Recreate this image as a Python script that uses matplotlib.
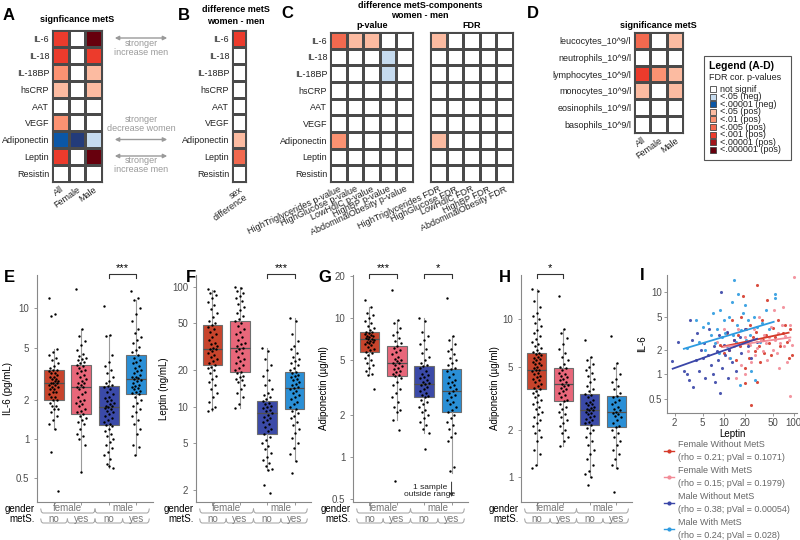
import numpy as np
import matplotlib
matplotlib.use('Agg')
import matplotlib.pyplot as plt
from matplotlib.colors import ListedColormap, BoundaryNorm
from matplotlib.transforms import blended_transform_factory
from matplotlib.patches import Rectangle
from matplotlib.ticker import NullLocator

plt.rcParams['font.family'] = ['Liberation Sans', 'DejaVu Sans']

# ---------------- data: heatmaps ----------------
markers = ['IL-6', 'IL-18', 'IL-18BP', 'hsCRP', 'AAT', 'VEGF', 'Adiponectin', 'Leptin', 'Resistin']
groups_A = ['All', 'Female', 'Male']
sig_levels = ['not signif', '<.05 (neg)', '<.00001 (neg)', '<.05 (pos)', '<.01 (pos)',
              '<.005 (pos)', '<.001 (pos)', '<.00001 (pos)', '<.000001 (pos)']
level_colors = ['#ffffff', '#c6dbef', '#0b57a6', '#fcbba1', '#fc9272',
                '#f2694f', '#ec3b2c', '#a3151b', '#67000d', '#233b7a']
# codes index into level_colors (9 = darkest negative)
sig_A = [[6, 0, 8], [6, 0, 6], [4, 0, 3], [3, 0, 3], [0, 0, 0],
         [4, 0, 0], [2, 9, 1], [6, 0, 8], [0, 0, 0]]
sig_B = [[6], [0], [0], [0], [0], [0], [3], [5], [0]]
B_cols = ['sex\ndifference']
C_pcols = ['HighTriglycerides p-value', 'HighGlucose p-value', 'LowHdlC p-value',
           'HighBP p-value', 'AbdominalObesity p-value']
C_fcols = ['HighTriglycerides FDR', 'HighGlucose FDR', 'LowHdlC FDR',
           'HighBP FDR', 'AbdominalObesity FDR']
sig_C_p = [[5, 3, 3, 0, 0], [0, 0, 0, 1, 0], [0, 0, 0, 1, 0], [0, 0, 0, 0, 0], [0, 0, 0, 0, 0],
           [0, 0, 0, 0, 0], [4, 0, 0, 0, 0], [0, 0, 0, 0, 0], [0, 0, 0, 0, 0]]
sig_C_f = [[3, 0, 0, 0, 0], [0, 0, 0, 0, 0], [0, 0, 0, 0, 0], [0, 0, 0, 0, 0], [0, 0, 0, 0, 0],
           [0, 0, 0, 0, 0], [3, 0, 0, 0, 0], [0, 0, 0, 0, 0], [0, 0, 0, 0, 0]]
cells_D = ['leucocytes_10^9/l', 'neutrophils_10^9/l', 'lymphocytes_10^9/l',
           'monocytes_10^9/l', 'eosinophils_10^9/l', 'basophils_10^9/l']
sig_D = [[5, 0, 3], [0, 0, 0], [6, 4, 3], [3, 0, 3], [0, 0, 0], [0, 0, 0]]

# ---------------- data: box panels ----------------
box_groups = ['female no', 'female yes', 'male no', 'male yes']
box_colors = ['#c8442c', '#e8677a', '#3b4aa8', '#2a8fd6']

E_q1 = [2.0, 1.55, 1.28, 2.2]; E_med = [2.7, 2.5, 1.75, 2.9]; E_q3 = [3.4, 3.7, 2.55, 4.4]
E_lo = [1.2, 0.56, 0.6, 0.75]; E_hi = [4.9, 6.9, 6.3, 11.5]
E_pts = [
    [12.0, 9.0, 8.8, 4.9, 4.6, 4.4, 4.2, 4.0, 3.8, 3.6, 3.5, 3.4, 3.4, 3.3, 3.2, 3.2, 3.1, 3.0, 3.0, 2.9,
     2.9, 2.8, 2.8, 2.7, 2.7, 2.7, 2.6, 2.6, 2.5, 2.5, 2.4, 2.4, 2.3, 2.3, 2.2, 2.1, 2.1, 2.0, 2.0, 1.9,
     1.8, 1.8, 1.7, 1.7, 1.6, 1.5, 1.4, 1.3, 1.2, 0.8, 0.4],
    [14.0, 6.9, 6.2, 5.6, 5.2, 4.8, 4.5, 4.3, 4.2, 4.1, 4.0, 3.9, 3.8, 3.7, 3.6, 3.5, 3.4, 3.3, 3.2, 3.1,
     3.0, 2.9, 2.8, 2.7, 2.7, 2.6, 2.5, 2.5, 2.4, 2.3, 2.2, 2.1, 2.0, 1.95, 1.9, 1.85, 1.8, 1.7, 1.65, 1.6,
     1.55, 1.5, 1.45, 1.4, 1.35, 1.3, 1.2, 1.1, 1.05, 1.0, 0.9, 0.56],
    [10.5, 6.3, 6.1, 4.4, 3.9, 3.6, 3.4, 3.2, 3.0, 2.8, 2.7, 2.6, 2.55, 2.5, 2.4, 2.3, 2.2, 2.1, 2.05, 2.0,
     1.95, 1.9, 1.85, 1.8, 1.78, 1.75, 1.72, 1.7, 1.65, 1.6, 1.55, 1.5, 1.45, 1.4, 1.35, 1.3, 1.28, 1.25,
     1.2, 1.15, 1.1, 1.05, 1.0, 0.95, 0.9, 0.85, 0.8, 0.75, 0.7, 0.65, 0.6, 0.62],
    [13.5, 12.0, 11.5, 10.0, 9.0, 8.0, 7.0, 6.5, 6.0, 5.7, 5.4, 5.1, 4.8, 4.6, 4.4, 4.2, 4.0, 3.9, 3.8,
     3.6, 3.5, 3.4, 3.3, 3.2, 3.1, 3.0, 3.0, 2.95, 2.9, 2.85, 2.8, 2.7, 2.6, 2.55, 2.5, 2.45, 2.4, 2.35,
     2.3, 2.25, 2.2, 2.1, 2.0, 1.9, 1.8, 1.7, 1.6, 1.5, 1.4, 1.3, 1.2, 1.1, 0.9, 0.87, 0.75]]

F_q1 = [22, 19.6, 5.9, 9.6]; F_med = [30, 31, 8.8, 14.4]; F_q3 = [48, 52, 11.1, 19.6]
F_lo = [9.1, 9.7, 2.97, 3.5]; F_hi = [94, 100, 30.6, 55]
F_pts = [
    [95, 92, 88, 85, 80, 75, 70, 65, 60, 56, 52, 50, 48, 46, 44, 42, 40, 38, 36, 34, 33, 32, 31, 30, 30,
     29, 28, 27, 26, 25, 24, 23, 22, 21.5, 21, 20, 19, 18, 17, 16, 15, 14, 13, 12, 11, 10, 9.5, 9.1],
    [100, 97, 92, 88, 84, 80, 76, 72, 68, 64, 60, 57, 54, 52, 50, 47, 44, 42, 40, 38, 36, 34, 33, 32, 31,
     30, 29, 28, 26, 25, 24, 23, 22, 21, 20, 19.6, 19, 18, 17.5, 17, 16.5, 16, 15, 14, 13, 12, 10.5, 9.7],
    [30.6, 29, 25, 22, 20, 18, 16.5, 15, 14, 13, 12.5, 12, 11.5, 11.1, 10.8, 10.5, 10.2, 10, 9.7, 9.4,
     9.1, 8.8, 8.5, 8.2, 8.0, 7.7, 7.4, 7.1, 6.8, 6.5, 6.2, 5.9, 5.6, 5.3, 5.0, 4.7, 4.4, 4.1, 3.8, 3.6,
     3.4, 3.2, 3.0, 2.97, 2.2, 1.9],
    [55, 52, 40, 35, 32, 30, 28, 26, 25, 24, 23, 22, 21, 20, 19.6, 19, 18.5, 18, 17.5, 17, 16.5, 16, 15.5,
     15, 14.5, 14.4, 14, 13.5, 13, 12.5, 12, 11.5, 11, 10.5, 10, 9.6, 9.2, 8.8, 8.4, 8.0, 7.5, 7.0, 6.5,
     6.0, 5.5, 5.0, 4.5, 4.0, 3.5, 2.8]]

G_q1 = [5.75, 3.85, 2.69, 2.1]; G_med = [7.07, 4.75, 3.37, 3.0]; G_q3 = [7.9, 6.3, 4.5, 4.3]
G_lo = [3.9, 1.86, 1.49, 0.77]; G_hi = [12, 9.7, 10, 7.4]
G_pts = [
    [13.5, 12, 11, 10.5, 10, 9.6, 9.2, 8.8, 8.5, 8.2, 8.0, 7.9, 7.8, 7.7, 7.6, 7.5, 7.4, 7.3, 7.2, 7.1,
     7.07, 7.0, 6.9, 6.8, 6.7, 6.6, 6.5, 6.4, 6.2, 6.0, 5.9, 5.75, 5.6, 5.4, 5.2, 5.0, 4.8, 4.6, 4.4, 4.2,
     4.0, 3.9, 3.1],
    [16, 9.7, 9.2, 8.5, 8.0, 7.6, 7.2, 6.9, 6.6, 6.3, 6.1, 5.9, 5.7, 5.5, 5.3, 5.1, 5.0, 4.9, 4.8, 4.75,
     4.6, 4.5, 4.4, 4.3, 4.2, 4.1, 4.0, 3.9, 3.85, 3.7, 3.5, 3.3, 3.1, 2.9, 2.7, 2.5, 2.3, 2.2, 2.1, 1.86,
     1.57, 0.67],
    [10, 9.6, 8.0, 7.5, 7.0, 6.5, 6.0, 5.6, 5.3, 5.0, 4.8, 4.6, 4.5, 4.4, 4.2, 4.0, 3.9, 3.8, 3.7, 3.6,
     3.5, 3.4, 3.37, 3.3, 3.2, 3.1, 3.0, 2.9, 2.8, 2.75, 2.69, 2.6, 2.5, 2.4, 2.3, 2.2, 2.1, 2.0, 1.9, 1.8,
     1.7, 1.6, 1.49, 1.15],
    [14, 7.4, 7.0, 6.5, 6.0, 5.8, 5.5, 5.2, 5.0, 4.8, 4.6, 4.4, 4.3, 4.2, 4.0, 3.8, 3.6, 3.5, 3.4, 3.3,
     3.2, 3.1, 3.0, 2.9, 2.8, 2.7, 2.6, 2.5, 2.4, 2.3, 2.2, 2.1, 2.0, 1.9, 1.8, 1.7, 1.6, 1.5, 1.4, 1.3,
     0.85, 0.8]]

H_q1 = [3.6, 3.04, 2.13, 2.08]; H_med = [4.74, 3.92, 2.68, 2.61]; H_q3 = [6.1, 4.9, 3.39, 3.29]
H_lo = [1.2, 1.57, 1.0, 1.15]; H_hi = [15.5, 8.7, 5.8, 5.3]
H_pts = [
    [15.5, 15, 13, 12, 11, 10.5, 10, 9.5, 9.0, 8.6, 8.2, 7.8, 7.5, 7.2, 7.0, 6.8, 6.6, 6.4, 6.2, 6.1, 6.0,
     5.9, 5.8, 5.7, 5.6, 5.5, 5.4, 5.3, 5.2, 5.1, 5.0, 4.9, 4.8, 4.75, 4.7, 4.6, 4.5, 4.4, 4.3, 4.2, 4.1,
     4.0, 3.9, 3.8, 3.7, 3.6, 3.5, 3.4, 3.3, 3.2, 3.1, 3.0, 2.9, 2.8, 2.7, 2.6, 2.5, 2.4, 2.3, 2.2, 2.1,
     2.0, 1.9, 1.8, 1.7, 1.5, 1.4, 1.2, 1.15],
    [14, 8.7, 8.2, 7.6, 7.0, 6.5, 6.1, 5.8, 5.5, 5.2, 5.0, 4.9, 4.8, 4.6, 4.5, 4.4, 4.3, 4.2, 4.1, 4.0,
     3.92, 3.85, 3.8, 3.7, 3.6, 3.5, 3.4, 3.3, 3.2, 3.1, 3.04, 2.9, 2.8, 2.7, 2.6, 2.5, 2.4, 2.3, 2.2, 2.1,
     2.0, 1.9, 1.8, 1.7, 1.57],
    [7.4, 5.8, 5.5, 5.2, 5.0, 4.8, 4.6, 4.4, 4.2, 4.0, 3.8, 3.6, 3.5, 3.39, 3.3, 3.2, 3.1, 3.0, 2.95, 2.9,
     2.85, 2.8, 2.75, 2.7, 2.68, 2.65, 2.6, 2.55, 2.5, 2.45, 2.4, 2.35, 2.3, 2.25, 2.2, 2.13, 2.05, 2.0,
     1.9, 1.8, 1.7, 1.6, 1.5, 1.4, 1.3, 1.2, 1.1, 1.05, 1.0, 0.9],
    [7.8, 5.3, 4.9, 4.5, 4.2, 4.0, 3.8, 3.6, 3.4, 3.29, 3.2, 3.1, 3.0, 2.9, 2.8, 2.7, 2.65, 2.61, 2.55,
     2.5, 2.45, 2.4, 2.3, 2.2, 2.1, 2.08, 2.0, 1.9, 1.8, 1.7, 1.6, 1.5, 1.4, 1.3, 1.2, 1.15, 0.81]]

# ---------------- data: scatter panel I ----------------
I_names = ['Female Without MetS', 'Female With MetS', 'Male Without MetS', 'Male With MetS']
I_stats = ['(rho = 0.21; pVal = 0.1071)', '(rho = 0.15; pVal = 0.1979)',
           '(rho = 0.38; pVal = 0.00054)', '(rho = 0.24; pVal = 0.028)']
I_colors = ['#d53a2a', '#f28b97', '#3a46a8', '#2e9be0']
fem_no_leptin = [9, 10, 11, 12, 13, 14, 15, 16, 17, 18, 19, 20, 21, 22, 23, 24, 25, 26, 28, 29, 30, 32, 33,
                 35, 36, 38, 40, 42, 45, 48, 50, 55, 60, 65, 70, 75, 80, 85, 90, 95, 20, 30]
fem_no_il6 = [2.3, 1.8, 3.2, 2.0, 4.5, 2.6, 1.5, 3.0, 2.2, 5.0, 9.0, 1.2, 3.5, 2.4, 1.6, 4.0, 0.42, 2.8,
              1.9, 3.3, 12.0, 2.2, 1.4, 4.5, 2.6, 1.8, 3.0, 8.0, 2.4, 1.7, 3.6, 2.8, 4.5, 2.2, 3.2, 4.0,
              2.5, 1.6, 3.5, 1.7, 0.78, 0.8]
fem_yes_leptin = [8, 10, 12, 14, 15, 16, 18, 20, 20, 22, 24, 25, 27, 28, 30, 32, 34, 36, 38, 40, 42, 45,
                  48, 50, 52, 55, 58, 60, 65, 68, 72, 75, 80, 85, 88, 90, 95, 100, 70, 62]
fem_yes_il6 = [2.5, 3.5, 1.6, 2.2, 0.9, 3.5, 1.3, 2.8, 1.0, 1.9, 2.3, 1.4, 3.5, 1.7, 2.1, 5.0, 2.6, 1.9,
               3.0, 2.4, 1.5, 2.8, 3.8, 2.0, 6.0, 2.6, 1.8, 3.2, 2.4, 4.0, 2.2, 2.9, 1.4, 2.6, 0.55, 4.0,
               2.3, 15.0, 6.5, 1.2]
male_no_leptin = [1.8, 2.2, 2.7, 3.0, 3.2, 3.3, 3.5, 3.6, 4.0, 4.2, 4.5, 4.8, 5.0, 5.2, 5.5, 6.0, 6.2, 6.5,
                  7.0, 7.2, 7.5, 8.0, 8.2, 8.5, 9.0, 9.2, 9.5, 10, 10.5, 11, 11.5, 12, 13, 14, 15, 17, 18,
                  20, 22, 25, 30]
male_no_il6 = [1.45, 2.5, 1.1, 1.0, 0.85, 4.5, 2.6, 0.7, 1.5, 3.2, 1.1, 2.0, 1.6, 2.4, 0.9, 1.7, 3.5, 1.3,
               1.0, 2.2, 0.8, 1.9, 1.5, 3.0, 0.6, 10.0, 1.2, 2.3, 1.7, 3.3, 0.9, 2.0, 1.4, 2.6, 1.1, 2.8,
               1.8, 3.5, 2.2, 1.6, 2.5]
male_yes_leptin = [3.0, 4.0, 4.5, 5.0, 5.5, 6.0, 6.5, 7.0, 7.5, 8.0, 8.5, 9.0, 9.5, 10, 10.5, 11, 12, 12.5,
                   13, 13.5, 14, 15, 15.5, 16, 17, 18, 19, 20, 21, 22, 24, 25, 27, 28, 30, 33, 35, 40, 45,
                   55, 55]
male_yes_il6 = [2.1, 4.5, 2.5, 3.8, 2.0, 4.2, 3.0, 5.5, 2.4, 3.5, 1.8, 6.0, 2.8, 4.5, 3.2, 2.2, 5.0, 1.6,
                7.5, 3.0, 14.0, 2.5, 4.0, 9.5, 0.75, 3.4, 5.5, 7.0, 2.6, 4.5, 3.0, 1.1, 5.0, 0.85, 3.8, 2.5,
                4.2, 6.0, 3.5, 8.5, 9.5]
# fitted regression lines (end points)
fit_x = [[9.5, 85], [10, 90], [1.87, 30], [2.7, 52]]
fit_y = [[2.16, 3.2], [2.15, 2.8], [1.17, 2.7], [2.04, 4.33]]

# ---------------- figure ----------------
W, H = 800, 540
fig = plt.figure(figsize=(8, 5.4), dpi=100)


def axpx(x0, y0, x1, y1):
    return fig.add_axes([x0 / W, 1 - y1 / H, (x1 - x0) / W, (y1 - y0) / H])


cmap = ListedColormap(level_colors)
norm = BoundaryNorm(np.arange(-0.5, len(level_colors) + 0.5, 1), len(level_colors))
EDGE = '#4a4a4a'


def heat(ax, codes, rowlabels, collabels, rot=35):
    codes = np.array(codes)
    nr, nc = codes.shape
    ax.pcolormesh(np.arange(nc + 1), np.arange(nr + 1), codes, cmap=cmap, norm=norm,
                  edgecolors=EDGE, linewidth=0.8)
    ax.set_xlim(0, nc)
    ax.set_ylim(nr, 0)
    ax.set_yticks(np.arange(nr) + 0.5)
    ax.set_yticklabels(rowlabels if rowlabels else [], fontsize=6.5, color='#222222')
    ax.set_xticks(np.arange(nc) + 0.5)
    ax.set_xticklabels(collabels, rotation=rot, ha='right', rotation_mode='anchor',
                       fontsize=6.5, color='#222222', linespacing=1.0)
    ax.tick_params(length=0, pad=2)
    for s in ax.spines.values():
        s.set_color(EDGE)
        s.set_linewidth(0.8)


axA = axpx(52, 30, 102, 182)
heat(axA, sig_A, markers, groups_A)
axB = axpx(232, 30, 246, 182)
heat(axB, sig_B, markers, B_cols)
axC1 = axpx(330, 32, 413, 182)
heat(axC1, sig_C_p, markers, C_pcols, rot=25)
axC2 = axpx(430, 32, 513, 182)
heat(axC2, sig_C_f, None, C_fcols, rot=25)
axD = axpx(634, 32, 683, 133)
heat(axD, sig_D, cells_D, groups_A)


# ---------------- box panels ----------------
def boxpanel(ax, q1, med, q3, lo, hi, pts, ylim, yticks, ylabels, ylabel):
    stats = [dict(med=med[i], q1=q1[i], q3=q3[i], whislo=lo[i], whishi=hi[i], fliers=[])
             for i in range(4)]
    ax.set_yscale('log')
    bp = ax.bxp(stats, positions=[1, 2, 3, 4], widths=0.72, patch_artist=True,
                showfliers=False, showcaps=False,
                boxprops=dict(edgecolor='#6e6e6e', linewidth=0.8),
                whiskerprops=dict(color='#9a9a9a', linewidth=0.8),
                medianprops=dict(color='#505050', linewidth=0.9))
    for patch, c in zip(bp['boxes'], box_colors):
        patch.set_facecolor(c)
    for i, vals in enumerate(pts):
        n = len(vals)
        jit = ((np.arange(n) * 0.6180339887) % 1.0 - 0.5) * 0.36
        ax.scatter((i + 1) + jit, vals, s=3, c='black', linewidths=0, zorder=3)
    ax.set_ylim(*ylim)
    ax.set_xlim(0.4, 4.6)
    ax.set_yticks(yticks)
    ax.set_yticklabels(ylabels, fontsize=7, color='#4d4d4d')
    ax.yaxis.set_minor_locator(NullLocator())
    ax.set_xticks([1, 2, 3, 4])
    ax.set_xticklabels([])
    ax.tick_params(length=2, color='#888888', width=0.6)
    ax.set_ylabel(ylabel, fontsize=7, labelpad=2)
    for s in ['top', 'right']:
        ax.spines[s].set_visible(False)
    for s in ['left', 'bottom']:
        ax.spines[s].set_color('#888888')
        ax.spines[s].set_linewidth(0.8)


def bracket(ax, x1, x2, label):
    tr = blended_transform_factory(ax.transData, ax.transAxes)
    ax.plot([x1, x1, x2, x2], [0.985, 1.005, 1.005, 0.985], transform=tr, clip_on=False,
            color='#333333', lw=0.8)
    ax.text((x1 + x2) / 2, 1.008, label, transform=tr, ha='center', va='bottom', fontsize=8)


panel_px = {'E': (37, 153), 'F': (196, 311), 'G': (353, 468), 'H': (521, 632)}
TOP, BOT = 275, 502

axE = axpx(37, TOP, 153, BOT)
boxpanel(axE, E_q1, E_med, E_q3, E_lo, E_hi, E_pts, (0.33, 18), [0.5, 1, 2, 5, 10],
         ['0.5', '1', '2', '5', '10'], 'IL-6 (pg/mL)')
bracket(axE, 3, 4, '***')

axF = axpx(196, TOP, 311, BOT)
boxpanel(axF, F_q1, F_med, F_q3, F_lo, F_hi, F_pts, (1.6, 125), [2, 5, 10, 20, 50, 100],
         ['2', '5', '10', '20', '50', '100'], 'Leptin (ng/mL)')
bracket(axF, 3, 4, '***')

axG = axpx(353, TOP, 468, BOT)
boxpanel(axG, G_q1, G_med, G_q3, G_lo, G_hi, G_pts, (0.475, 20.5), [0.5, 1, 2, 5, 10, 20],
         ['0.5', '1', '2', '5', '10', '20'], 'Adiponectin (µg/ml)')
bracket(axG, 1, 2, '***')
bracket(axG, 3, 4, '*')
axG.text(3.2, 0.05, '1 sample\noutside range', transform=blended_transform_factory(axG.transData, axG.transAxes),
         ha='center', va='center', fontsize=6, linespacing=1.0, color='#222222')
axG.annotate('', xy=(4, 0.01), xytext=(4, 0.1),
             xycoords=blended_transform_factory(axG.transData, axG.transAxes),
             textcoords=blended_transform_factory(axG.transData, axG.transAxes),
             arrowprops=dict(arrowstyle='-|>', color='#333333', lw=0.7, mutation_scale=5))

axH = axpx(521, TOP, 632, BOT)
boxpanel(axH, H_q1, H_med, H_q3, H_lo, H_hi, H_pts, (0.7, 19), [1, 2, 5, 10],
         ['1', '2', '5', '10'], 'Adiponectin (µg/ml)')
bracket(axH, 1, 2, '*')

# ---------------- scatter panel I ----------------
axI = axpx(667, 275, 797, 413)
I_x = [fem_no_leptin, fem_yes_leptin, male_no_leptin, male_yes_leptin]
I_y = [fem_no_il6, fem_yes_il6, male_no_il6, male_yes_il6]
for xs, ys, c in zip(I_x, I_y, I_colors):
    axI.scatter(xs, ys, s=5, c=c, linewidths=0, alpha=0.9, zorder=2)
for fx, fy, c in zip(fit_x, fit_y, I_colors):
    axI.plot(fx, fy, color=c, lw=1.3, zorder=3)
axI.set_xscale('log')
axI.set_yscale('log')
axI.set_xlim(1.55, 112)
axI.set_ylim(0.34, 16)
axI.set_xticks([2, 5, 10, 20, 50, 100])
axI.set_xticklabels(['2', '5', '10', '20', '50', '100'], fontsize=7, color='#4d4d4d')
axI.set_yticks([0.5, 1, 2, 5, 10])
axI.set_yticklabels(['0.5', '1', '2', '5', '10'], fontsize=7, color='#4d4d4d')
axI.xaxis.set_minor_locator(NullLocator())
axI.yaxis.set_minor_locator(NullLocator())
axI.tick_params(length=2, color='#888888', width=0.6, pad=1.5)
axI.set_xlabel('Leptin', fontsize=7, labelpad=1)
axI.set_ylabel('IL-6', fontsize=7, labelpad=1)
for s in ['top', 'right']:
    axI.spines[s].set_visible(False)
for s in ['left', 'bottom']:
    axI.spines[s].set_color('#888888')
    axI.spines[s].set_linewidth(0.8)

# ---------------- overlay (pixel coordinates) ----------------
ov = fig.add_axes([0, 0, 1, 1], zorder=10)
ov.set_xlim(0, W)
ov.set_ylim(H, 0)
ov.axis('off')
ov.patch.set_alpha(0)

for letter, (x, y) in {'A': (9, 15), 'B': (184, 15), 'C': (287, 14), 'D': (533, 14),
                       'E': (9, 277), 'F': (191, 277), 'G': (325, 277), 'H': (505, 277),
                       'I': (642, 276)}.items():
    ov.text(x, y, letter, fontsize=12, fontweight='bold', ha='center', va='center')

bold = dict(fontsize=6.5, fontweight='bold', ha='center', va='center')
ov.text(77, 20, 'signficance metS', **bold)
ov.text(236, 10, 'difference metS', **bold)
ov.text(236, 22, 'women - men', **bold)
ov.text(420, 5, 'difference metS-components', **bold)
ov.text(420, 15.5, 'women - men', **bold)
ov.text(372, 25, 'p-value', **bold)
ov.text(472, 25, 'FDR', **bold)
ov.text(658, 25, 'significance metS', **bold)

# arrows between A and B
grey = '#9a9a9a'
for yy in [38, 139.5, 156]:
    ov.annotate('', xy=(112, yy), xytext=(170, yy),
                arrowprops=dict(arrowstyle='<|-|>', color=grey, lw=1.0, mutation_scale=6))
gt = dict(fontsize=6.5, color=grey, ha='center', va='center', linespacing=1.0)
ov.text(141, 48, 'stronger\nincrease men', **gt)
ov.text(141, 124, 'stronger\ndecrease women', **gt)
ov.text(141, 165, 'stronger\nincrease men', **gt)

# legend A-D
ov.add_patch(Rectangle((704, 56), 87, 104, facecolor='white', edgecolor='#555555', lw=0.8))
ov.text(709, 66, 'Legend (A-D)', fontsize=7.5, fontweight='bold', va='center', ha='left')
ov.text(709, 78, 'FDR cor. p-values', fontsize=6.5, va='center', ha='left', color='#222222')
for i, lab in enumerate(sig_levels):
    yy = 89 + i * 7.6
    ov.add_patch(Rectangle((710, yy - 3), 6, 6, facecolor=level_colors[i], edgecolor='#444444', lw=0.6))
    ov.text(720, yy, lab, fontsize=6.5, va='center', ha='left', color='#222222')


# braces under box panels
def brace(a, b, yb, h=4):
    xs = [a, a + 0.6, a + 2, b - 2, b - 0.6, b]
    ys = [yb - h, yb - 1.2, yb, yb, yb - 1.2, yb - h]
    ov.plot(xs, ys, color='#a0a0a0', lw=0.7)


for key, (x0, x1) in panel_px.items():
    unit = (x1 - x0) / 4.2
    cen = [x0 + (0.6 + k) * unit for k in range(4)]
    edges = [cen[0] - unit / 2, cen[0] + unit / 2, cen[1] + unit / 2, cen[2] + unit / 2, cen[3] + unit / 2]
    ov.text(x0 - 2, 508.5, 'gender', fontsize=7, ha='right', va='center')
    ov.text(x0 - 2, 518.5, 'metS.', fontsize=7, ha='right', va='center')
    brace(edges[0] + 1, edges[2], 513)
    brace(edges[2], edges[4] - 1, 513)
    ov.text((edges[0] + edges[2]) / 2, 508, 'female', fontsize=7, color='#777777', ha='center', va='center')
    ov.text((edges[2] + edges[4]) / 2, 508, 'male', fontsize=7, color='#777777', ha='center', va='center')
    for k in range(4):
        brace(edges[k] + (1 if k == 0 else 0), edges[k + 1] - (1 if k == 3 else 0), 523)
        ov.text(cen[k], 518.5, ['no', 'yes'][k % 2], fontsize=7, color='#777777', ha='center', va='center')

# legend of panel I
for k in range(4):
    ym = 451 + k * 26
    ov.plot([664, 674], [ym, ym], color=I_colors[k], lw=1.0)
    ov.plot([669], [ym], marker='o', ms=2, color=I_colors[k])
    ov.text(678, ym - 6.5, I_names[k], fontsize=6.5, color='#666666', va='center', ha='left')
    ov.text(678, ym + 6, I_stats[k], fontsize=6.5, color='#666666', va='center', ha='left')

fig.savefig('out.png', dpi=100)
